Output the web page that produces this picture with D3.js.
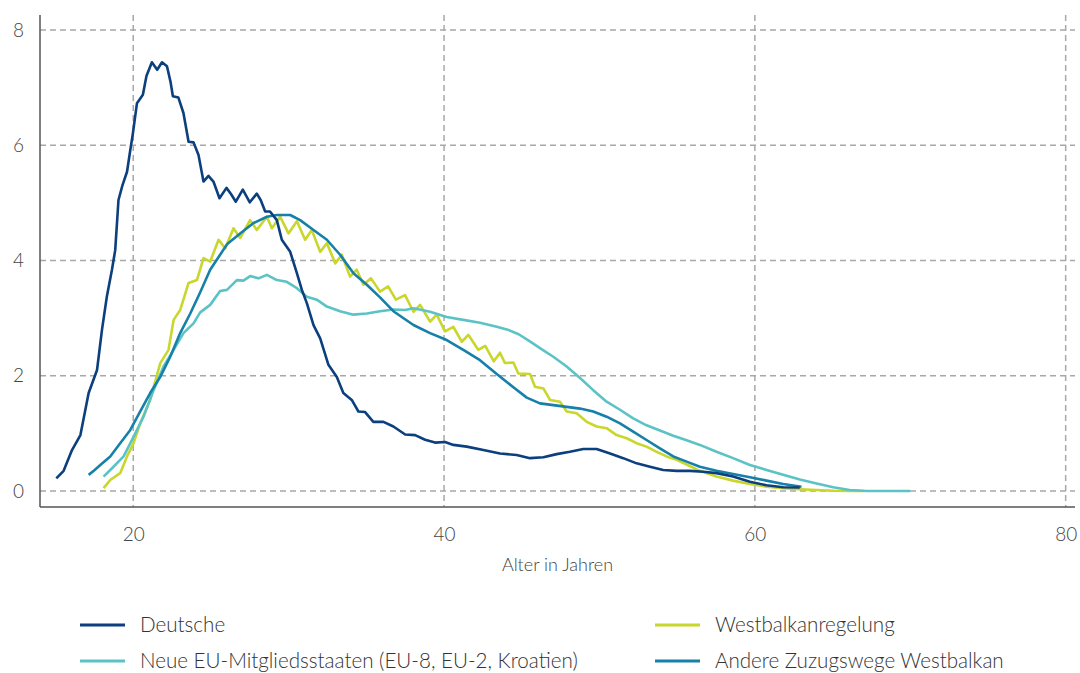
<!DOCTYPE html>
<html>
<head>
<meta charset="utf-8">
<script src="https://cdn.jsdelivr.net/npm/d3@7"></script>
<style>
  html, body { margin: 0; padding: 0; background: #fff; }
  svg { display: block; font-family: Lato, "Open Sans", sans-serif; }
</style>
</head>
<body>
<svg id="chart" width="1080" height="673"></svg>
<script>
// ---- Data (age in years, share in %) ----
const xTicks = [20, 40, 60, 80];
const yTicks = [0, 2, 4, 6, 8];
const xAxisTitle = "Alter in Jahren";
const seriesNames = ["Deutsche", "Westbalkanregelung", "Neue EU-Mitgliedsstaaten (EU-8, EU-2, Kroatien)", "Andere Zuzugswege Westbalkan"];

const deutsche = [
  [15.05,0.22],[15.52,0.35],[16.06,0.71],[16.6,0.97],[17.13,1.70],[17.67,2.10],[17.99,2.80],[18.3,3.37],
  [18.63,3.84],[18.84,4.18],[19.05,5.05],[19.3,5.3],[19.6,5.54],[19.8,5.9],[19.98,6.21],[20.24,6.73],
  [20.62,6.875],[20.85,7.2],[21.2,7.44],[21.54,7.31],[21.85,7.44],[22.17,7.37],[22.4,7.1],[22.55,6.85],
  [22.9,6.83],[23.23,6.56],[23.56,6.06],[23.88,6.05],[24.2,5.83],[24.52,5.37],[24.84,5.47],[25.16,5.37],
  [25.55,5.08],[26.0,5.26],[26.3,5.15],[26.6,5.02],[27.05,5.23],[27.5,5.01],[27.95,5.16],[28.2,5.05],
  [28.49,4.85],[28.8,4.85],[29.24,4.70],[29.56,4.36],[30.1,4.15],[30.53,3.78],[30.85,3.49],[31.17,3.26],
  [31.6,2.88],[32.03,2.65],[32.56,2.19],[33.1,1.98],[33.52,1.70],[34.06,1.58],[34.49,1.38],[34.92,1.37],
  [35.45,1.20],[36.1,1.20],[36.74,1.12],[37.5,0.98],[38.14,0.97],[38.78,0.89],[39.42,0.84],[40.06,0.85],
  [40.6,0.80],[41.46,0.77],[42.53,0.71],[43.6,0.65],[44.67,0.625],[45.53,0.57],[46.39,0.585],[47.25,0.64],
  [48.1,0.68],[48.96,0.73],[49.82,0.73],[50.68,0.65],[51.53,0.57],[52.39,0.48],[53.25,0.42],[54.1,0.365],
  [54.96,0.35],[55.82,0.35],[56.68,0.335],[57.53,0.31],[58.6,0.25],[59.68,0.16],[60.75,0.10],[61.82,0.064],
  [62.89,0.06]
];

const westbalkanregelung = [
  [18.09,0.05],[18.52,0.19],[19.16,0.31],[19.6,0.6],[20.02,0.83],[20.45,1.175],[21.09,1.58],[21.74,2.22],
  [22.27,2.45],[22.6,2.97],[23.02,3.14],[23.56,3.61],[24.1,3.66],[24.52,4.04],[24.95,3.98],[25.49,4.36],
  [25.92,4.21],[26.45,4.56],[26.88,4.39],[27.52,4.70],[27.95,4.53],[28.6,4.76],[28.92,4.56],[29.45,4.76],
  [29.99,4.47],[30.53,4.68],[31.06,4.36],[31.49,4.53],[32.03,4.15],[32.46,4.30],[33.0,3.95],[33.42,4.10],
  [33.95,3.72],[34.38,3.84],[34.81,3.58],[35.3,3.69],[35.88,3.46],[36.4,3.55],[36.9,3.32],[37.49,3.40],
  [38.03,3.11],[38.46,3.23],[39.1,2.94],[39.53,3.06],[40.06,2.77],[40.6,2.85],[41.14,2.59],[41.56,2.71],
  [42.2,2.45],[42.65,2.52],[43.2,2.25],[43.6,2.40],[43.92,2.22],[44.46,2.23],[44.78,2.04],[45.53,2.03],
  [45.85,1.81],[46.39,1.78],[46.82,1.58],[47.46,1.55],[47.89,1.38],[48.53,1.35],[49.18,1.20],[49.82,1.12],
  [50.46,1.09],[51.1,0.97],[51.75,0.915],[52.39,0.83],[53.03,0.77],[53.68,0.68],[54.32,0.60],[54.96,0.54],
  [55.61,0.46],[56.46,0.35],[57.53,0.25],[58.6,0.18],[59.68,0.12],[60.75,0.075],[61.82,0.047],[62.89,0.03],
  [63.97,0.017],[65.04,0.005],[66.1,0],[67.0,0]
];

const neueEU = [
  [18.09,0.25],[18.73,0.42],[19.38,0.6],[20.02,0.94],[20.66,1.29],[21.31,1.75],[21.95,2.16],[22.6,2.45],
  [23.23,2.74],[23.88,2.91],[24.31,3.10],[24.95,3.23],[25.59,3.47],[26.03,3.49],[26.67,3.66],[27.09,3.65],
  [27.52,3.73],[28.06,3.69],[28.6,3.75],[29.24,3.66],[29.88,3.63],[30.53,3.52],[31.17,3.37],[31.81,3.32],
  [32.46,3.20],[33.31,3.12],[34.17,3.06],[35.03,3.08],[35.88,3.12],[36.74,3.15],[37.5,3.14],[38.03,3.17],
  [39.1,3.11],[40.17,3.02],[41.24,2.97],[42.31,2.92],[43.39,2.85],[44.1,2.80],[44.8,2.72],[45.5,2.60],
  [46.17,2.48],[47.03,2.33],[47.89,2.16],[48.75,1.96],[49.6,1.75],[50.46,1.55],[51.32,1.41],[52.17,1.26],
  [53.03,1.14],[53.89,1.05],[54.75,0.96],[55.61,0.88],[56.46,0.80],[57.53,0.68],[58.6,0.57],[59.68,0.45],
  [60.75,0.365],[61.82,0.28],[62.89,0.20],[63.97,0.13],[65.04,0.064],[66.1,0.017],[67.2,0],[70.0,0]
];

const andereWestbalkan = [
  [17.13,0.28],[17.5,0.36],[17.88,0.45],[18.52,0.6],[19.16,0.83],[19.81,1.06],[20.45,1.38],[21.09,1.70],
  [21.74,1.98],[22.38,2.33],[23.02,2.74],[23.67,3.08],[24.31,3.45],[24.95,3.84],[25.59,4.10],[26.03,4.28],
  [26.88,4.47],[27.74,4.65],[28.6,4.76],[29.24,4.79],[30.1,4.79],[30.74,4.70],[31.6,4.53],[32.46,4.36],
  [33.31,4.10],[34.17,3.78],[35.03,3.58],[35.88,3.36],[36.74,3.12],[38.03,2.88],[39.1,2.74],[40.17,2.62],
  [41.24,2.45],[42.31,2.27],[43.39,2.03],[44.46,1.80],[45.32,1.62],[46.17,1.52],[47.03,1.49],[47.89,1.46],
  [48.75,1.43],[49.6,1.38],[50.46,1.29],[51.32,1.175],[52.17,1.03],[53.03,0.885],[53.89,0.74],[54.75,0.60],
  [55.61,0.51],[56.46,0.42],[57.53,0.35],[58.6,0.295],[59.68,0.24],[60.75,0.18],[61.82,0.12],[63.0,0.075]
];

const seriesColors = ["#0b3f7e", "#c9d62b", "#5bc3c5", "#1780a9"];

// ---- Chart ----
const svg = d3.select("#chart");
const plotLeft = 40, plotRight = 1075, plotTop = 15, plotBottom = 507;

const x = d3.scaleLinear().domain([14, 80.6]).range([plotLeft, plotRight]);
const y = d3.scaleLinear().domain([0, 8]).range([491, 30]);

// grid
const grid = svg.append("g");
grid.selectAll("line.h").data(yTicks).enter().append("line")
  .attr("x1", plotLeft).attr("x2", plotRight)
  .attr("y1", d => y(d)).attr("y2", d => y(d))
  .attr("stroke", "#a8a8a8").attr("stroke-width", 1.5).attr("stroke-dasharray", "6,4");
grid.selectAll("line.v").data(xTicks).enter().append("line")
  .attr("x1", d => x(d)).attr("x2", d => x(d))
  .attr("y1", plotTop).attr("y2", plotBottom)
  .attr("stroke", "#a8a8a8").attr("stroke-width", 1.5).attr("stroke-dasharray", "6,4");

// axes
const xAxis = d3.axisBottom(x).tickValues(xTicks).tickSize(0).tickPadding(21);
const gx = svg.append("g").attr("transform", `translate(0,${plotBottom})`).call(xAxis);
gx.select(".domain").attr("stroke", "#555").attr("stroke-width", 1.5).attr("d", `M${plotLeft},0H${plotRight}`);
gx.selectAll("text").attr("font-size", 19).attr("fill", "#444").attr("font-family", "Lato, sans-serif").attr("font-weight", 300);

const yAxis = d3.axisLeft(y).tickValues(yTicks).tickSize(0).tickPadding(16);
const gy = svg.append("g").attr("transform", `translate(${plotLeft},0)`).call(yAxis);
gy.select(".domain").attr("stroke", "#555").attr("stroke-width", 1.5).attr("d", `M0,${plotTop}V${plotBottom}`);
gy.selectAll("text").attr("font-size", 19).attr("fill", "#444").attr("font-family", "Lato, sans-serif").attr("font-weight", 300);

svg.append("text").attr("x", (plotLeft + plotRight) / 2).attr("y", 571)
  .attr("text-anchor", "middle").attr("font-size", 18).attr("fill", "#444")
  .attr("font-weight", 300).text(xAxisTitle);

// lines
const line = d3.line().x(d => x(d[0])).y(d => y(d[1]));
const allSeries = [deutsche, westbalkanregelung, neueEU, andereWestbalkan];
const drawOrder = [1, 2, 3, 0];
drawOrder.forEach(i => {
  svg.append("path").datum(allSeries[i])
    .attr("fill", "none").attr("stroke", seriesColors[i])
    .attr("stroke-width", 2.6).attr("stroke-linejoin", "round")
    .attr("d", line);
});

// legend
const legendPos = [[80, 625], [655, 625], [80, 661], [655, 661]];
seriesNames.forEach((name, i) => {
  const [lx, ly] = legendPos[i];
  const g = svg.append("g").attr("transform", `translate(${lx},${ly})`);
  g.append("line").attr("x1", 0).attr("x2", 45).attr("y1", 0).attr("y2", 0)
    .attr("stroke", seriesColors[i]).attr("stroke-width", 3);
  g.append("text").attr("x", 60).attr("y", 0).attr("dy", "0.35em")
    .attr("font-size", 20.6).attr("fill", "#333").attr("font-weight", 300).text(name);
});
</script>
</body>
</html>
